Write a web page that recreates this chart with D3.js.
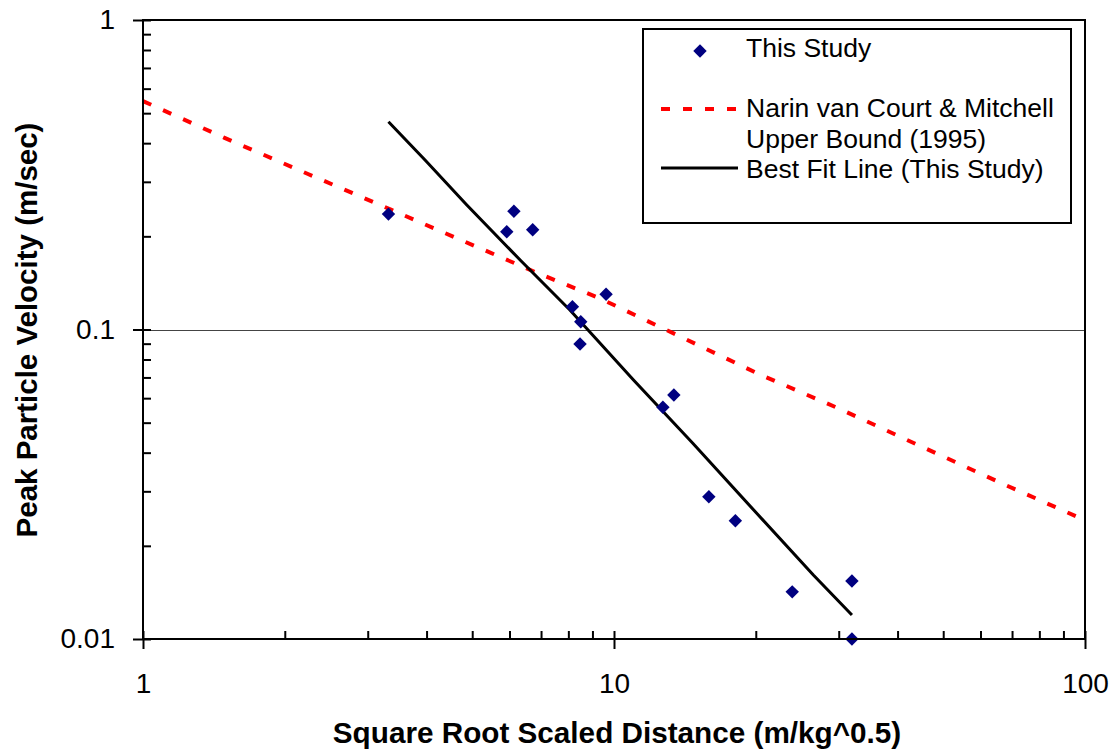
<!DOCTYPE html>
<html>
<head>
<meta charset="utf-8">
<script src="https://cdn.jsdelivr.net/npm/d3@7"></script>
<style>
  html, body { margin: 0; padding: 0; background: #fff; }
  svg { display: block; }
  text { font-family: "Liberation Sans", Arial, sans-serif; fill: #000; }
</style>
</head>
<body>
<svg id="chart" width="1116" height="754"></svg>
<script>
// ---- Data ----
const studyX = [3.32, 5.92, 6.13, 6.72, 8.16, 9.62, 8.50, 8.47, 12.7, 13.4, 15.9, 18.1, 23.9, 32.0, 32.0];
const studyY = [0.236, 0.207, 0.241, 0.210, 0.1185, 0.130, 0.106, 0.0898, 0.0561, 0.0614, 0.0288, 0.0241, 0.0142, 0.0154, 0.0100];

const narinX = [1, 1.49, 2.24, 3.35, 5.07, 6.85, 9.34, 13.6, 20.3, 30.3, 45.2, 67.6, 100];
const narinY = [0.547, 0.416, 0.318, 0.2445, 0.186, 0.1526, 0.126, 0.0960, 0.0718, 0.0552, 0.0417, 0.0315, 0.0242];

const fitX = [3.32, 3.97, 4.87, 6.32, 8.06, 11.0, 14.7, 19.8, 26.5, 32.0];
const fitY = [0.469, 0.353, 0.2525, 0.1677, 0.1156, 0.0687, 0.0429, 0.0261, 0.0161, 0.01196];

const xMajor = [1, 10, 100];
const xTickLabels = ["1", "10", "100"];
const xMinor = [2,3,4,5,6,7,8,9,20,30,40,50,60,70,80,90];
const yMajor = [0.01, 0.1, 1];
const yTickLabels = ["0.01", "0.1", "1"];
const yMinor = [0.02,0.03,0.04,0.05,0.06,0.07,0.08,0.09,0.2,0.3,0.4,0.5,0.6,0.7,0.8,0.9];
const yGrid = [0.1];

const seriesNames = ["This Study", "Narin van Court & Mitchell", "Upper Bound (1995)", "Best Fit Line (This Study)"];
const xTitle = "Square Root Scaled Distance (m/kg^0.5)";
const yTitle = "Peak Particle Velocity (m/sec)";

// ---- Layout ----
const svg = d3.select("#chart");
const L = 143, R = 1085, T = 20, B = 639;
const x = d3.scaleLog().domain([1, 100]).range([L, R]);
const y = d3.scaleLog().domain([0.01, 1]).range([B, T]);

svg.append("rect").attr("width", 1116).attr("height", 754).attr("fill", "#fff");

// gridline
svg.append("g").selectAll("line").data(yGrid).join("line")
  .attr("x1", L).attr("x2", R)
  .attr("y1", d => Math.round(y(d)) + 0.5).attr("y2", d => Math.round(y(d)) + 0.5)
  .attr("stroke", "#444").attr("stroke-width", 1);

// Narin dashed line
const line = d3.line().x(d => x(d[0])).y(d => y(d[1]));
svg.append("path")
  .datum(d3.zip(narinX, narinY))
  .attr("d", line)
  .attr("fill", "none").attr("stroke", "#ff0000")
  .attr("stroke-width", 4).attr("stroke-dasharray", "9,13");

// Best fit
svg.append("path")
  .datum(d3.zip(fitX, fitY))
  .attr("d", line)
  .attr("fill", "none").attr("stroke", "#000")
  .attr("stroke-width", 3).attr("stroke-linejoin", "round");

// Points
const diamond = d3.symbol(d3.symbolSquare, 90);
svg.append("g").selectAll("path").data(d3.zip(studyX, studyY)).join("path")
  .attr("d", diamond)
  .attr("transform", d => `translate(${x(d[0])},${y(d[1])}) rotate(45)`)
  .attr("fill", "#000080");

// Frame
svg.append("rect").attr("x", L).attr("y", T).attr("width", R - L).attr("height", B - T)
  .attr("fill", "none").attr("stroke", "#000").attr("stroke-width", 2);

// Y axis
svg.append("g").attr("transform", `translate(${L},0)`)
  .call(d3.axisLeft(y).tickValues(yMajor).tickFormat((d, i) => yTickLabels[i])
    .tickSize(10).tickPadding(18));
svg.append("g").attr("transform", `translate(${L},0)`)
  .call(d3.axisRight(y).tickValues(yMajor.concat(yMinor)).tickFormat("").tickSize(8));

// X axis
svg.append("g").attr("transform", `translate(0,${B})`)
  .call(d3.axisBottom(x).tickValues(xMajor).tickFormat((d, i) => xTickLabels[i])
    .tickSize(10).tickPadding(24));
svg.append("g").attr("transform", `translate(0,${B})`)
  .call(d3.axisTop(x).tickValues(xMajor.concat(xMinor)).tickFormat("").tickSize(8));

svg.selectAll(".domain").remove();
svg.selectAll(".tick line").attr("stroke", "#000").attr("stroke-width", 2);
svg.selectAll(".tick text").attr("font-size", 28).attr("font-family", "Liberation Sans, Arial, sans-serif").attr("fill", "#000");

// Axis titles
svg.append("text").attr("x", 617).attr("y", 743).attr("text-anchor", "middle")
  .attr("font-size", 29.7).attr("font-weight", "bold").text(xTitle);
svg.append("text").attr("transform", "translate(37,330) rotate(-90)").attr("text-anchor", "middle")
  .attr("font-size", 29.5).attr("font-weight", "bold").text(yTitle);

// Legend
const lg = svg.append("g");
lg.append("rect").attr("x", 643).attr("y", 29).attr("width", 428).attr("height", 194)
  .attr("fill", "#fff").attr("stroke", "#000").attr("stroke-width", 2);
lg.append("path").attr("d", diamond).attr("transform", "translate(700,51) rotate(45)").attr("fill", "#000080");
lg.append("line").attr("x1", 661).attr("x2", 737).attr("y1", 109).attr("y2", 109)
  .attr("stroke", "#ff0000").attr("stroke-width", 4).attr("stroke-dasharray", "9,13");
lg.append("line").attr("x1", 661).attr("x2", 738).attr("y1", 168).attr("y2", 168)
  .attr("stroke", "#000").attr("stroke-width", 3);
const legendBaselines = [57, 117, 148, 178];
lg.selectAll("text.leg").data(seriesNames).join("text").attr("class", "leg")
  .attr("x", 746).attr("y", (d, i) => legendBaselines[i])
  .attr("font-size", 26.5).text(d => d);
</script>
</body>
</html>
